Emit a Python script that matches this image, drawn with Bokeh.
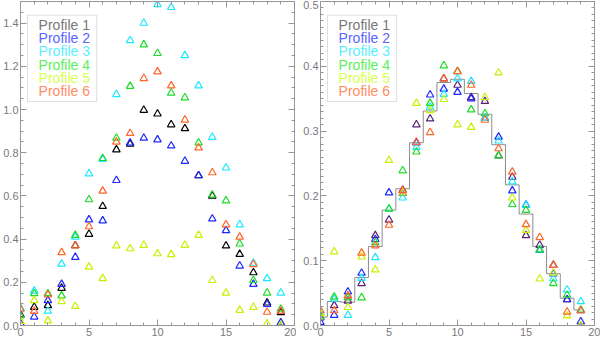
from bokeh.plotting import figure
from bokeh.layouts import row
from bokeh.models import Range1d, FixedTicker, LinearAxis, Label, BoxAnnotation
from bokeh.embed import file_html
from bokeh.resources import INLINE

# ---------------- data ----------------
X = list(range(20))
NAMES = ["Profile 1", "Profile 2", "Profile 3", "Profile 4", "Profile 5", "Profile 6"]

LEFT_P1 = [0.05, 0.085, 0.093, 0.173, 0.37, 0.423, 0.552, 0.814, 0.84, 0.997, 0.98, 0.93, 0.912, 0.694, 0.60, 0.369, 0.33, 0.245, 0.105, 0.06]
LEFT_P2 = [0.01, 0.04, 0.116, 0.191, 0.316, 0.49, 0.485, 0.672, 0.845, 0.868, 0.86, 0.832, 0.761, 0.694, 0.494, 0.44, 0.276, 0.191, 0.098, 0.013]
LEFT_P3 = [0.08, 0.16, 0.067, 0.285, 0.41, 0.703, 0.77, 1.07, 1.32, 1.40, 1.486, 1.473, 1.25, 1.11, 0.872, 0.73, 0.467, 0.289, 0.218, 0.151]
LEFT_P4 = [0.045, 0.148, 0.148, 0.138, 0.418, 0.583, 0.774, 0.868, 1.108, 1.30, 1.26, 1.077, 1.055, 0.846, 0.605, 0.578, 0.378, 0.209, 0.151, 0.076]
LEFT_P5 = [0.02, 0.116, 0.022, 0.111, 0.089, 0.271, 0.218, 0.369, 0.356, 0.372, 0.333, 0.329, 0.372, 0.418, 0.209, 0.151, 0.071, 0.085, 0.009, 0.0]
LEFT_P6 = [0.076, 0.066, 0.142, 0.338, 0.369, 0.458, 0.623, 0.85, 0.89, 1.144, 1.175, 1.11, 0.952, 0.823, 0.708, 0.467, 0.41, 0.283, 0.062, 0.066]

RIGHT_P1 = [0.012, 0.031, 0.038, 0.065, 0.139, 0.163, 0.209, 0.310, 0.319, 0.381, 0.371, 0.352, 0.346, 0.262, 0.229, 0.139, 0.124, 0.093, 0.040, 0.023]
RIGHT_P2 = [0.005, 0.016, 0.052, 0.081, 0.133, 0.205, 0.204, 0.282, 0.356, 0.365, 0.360, 0.350, 0.320, 0.291, 0.208, 0.186, 0.116, 0.080, 0.040, 0.006]
RIGHT_P3 = [0.020, 0.041, 0.016, 0.073, 0.105, 0.180, 0.197, 0.275, 0.337, 0.357, 0.381, 0.377, 0.320, 0.285, 0.222, 0.186, 0.117, 0.072, 0.055, 0.037]
RIGHT_P4 = [0.013, 0.044, 0.043, 0.043, 0.128, 0.180, 0.239, 0.268, 0.343, 0.401, 0.392, 0.333, 0.327, 0.262, 0.187, 0.178, 0.117, 0.065, 0.047, 0.024]
RIGHT_P5 = [0.019, 0.114, 0.028, 0.106, 0.086, 0.255, 0.205, 0.343, 0.332, 0.349, 0.310, 0.306, 0.352, 0.390, 0.197, 0.147, 0.072, 0.081, 0.015, 0.000]
RIGHT_P6 = [0.023, 0.023, 0.046, 0.112, 0.123, 0.155, 0.208, 0.283, 0.298, 0.381, 0.392, 0.371, 0.317, 0.273, 0.237, 0.156, 0.136, 0.093, 0.021, 0.023]

MODEL = [0.013, 0.037, 0.036, 0.074, 0.122, 0.178, 0.211, 0.282, 0.331, 0.375, 0.380, 0.358, 0.326, 0.279, 0.217, 0.172, 0.122, 0.080, 0.042, 0.024]

X_TICKS = [0, 5, 10, 15, 20]
LEFT_Y_TICKS = [0.0, 0.2, 0.4, 0.6, 0.8, 1.0, 1.2, 1.4]
RIGHT_Y_TICKS = [0.0, 0.1, 0.2, 0.3, 0.4, 0.5]

LEFT_SERIES = [LEFT_P1, LEFT_P2, LEFT_P3, LEFT_P4, LEFT_P5, LEFT_P6]
RIGHT_SERIES = [RIGHT_P1, RIGHT_P2, RIGHT_P3, RIGHT_P4, RIGHT_P5, RIGHT_P6]

# ---------------- style ----------------
LEFT_COLORS = ["#000000", "#1e28ff", "#1ee6ff", "#1edc28", "#c8f000", "#ff6428"]
RIGHT_COLORS = ["#5a1e78", "#1e28ff", "#1ee6ff", "#1edc28", "#c8f000", "#ff6428"]
TEXT_COLORS = ["#787878", "#5a64ff", "#5af0ff", "#5af05a", "#d7ff50", "#ff8c64"]
AXC = "#969696"
TXC = "#7a7a7a"
FONT = "Liberation Sans"


def style_axis(ax, labels=True):
    ax.axis_line_color = AXC
    ax.major_tick_line_color = AXC
    ax.minor_tick_line_color = AXC
    ax.major_tick_in = 6
    ax.major_tick_out = 0
    ax.minor_tick_in = 3
    ax.minor_tick_out = 0
    ax.major_label_text_color = TXC
    ax.major_label_text_font = FONT
    ax.major_label_text_font_size = "11px"
    ax.major_label_standoff = 2
    if not labels:
        # tick marks only: labels are not painted
        ax.major_label_text_color = None
        ax.major_label_text_font_size = "1px"
        ax.major_label_standoff = 0


def make_panel(width, y_end, y_ticks, y_minor, min_border_left, min_border_right):
    p = figure(width=width, height=338, x_range=Range1d(0, 20), y_range=Range1d(0, y_end),
               output_backend="svg", toolbar_location=None,
               min_border_left=min_border_left, min_border_right=min_border_right,
               min_border_top=1, min_border_bottom=13)
    p.grid.visible = False
    p.outline_line_color = None
    p.background_fill_color = "white"
    p.border_fill_color = "white"
    p.xaxis[0].ticker = FixedTicker(ticks=X_TICKS, minor_ticks=list(range(0, 21)))
    p.yaxis[0].ticker = FixedTicker(ticks=y_ticks, minor_ticks=y_minor)
    p.xaxis[0].major_label_overrides = {t: str(t) for t in X_TICKS}
    p.yaxis[0].major_label_overrides = {t: "%.1f" % t for t in y_ticks}
    style_axis(p.xaxis[0])
    style_axis(p.yaxis[0])
    top = LinearAxis(ticker=FixedTicker(ticks=X_TICKS, minor_ticks=list(range(0, 21))))
    right = LinearAxis(ticker=FixedTicker(ticks=y_ticks, minor_ticks=y_minor))
    style_axis(top, labels=False)
    style_axis(right, labels=False)
    p.add_layout(top, "above")
    p.add_layout(right, "right")
    return p


def add_legend(p, y_end):
    # layout positions (data units) of the legend box and its rows
    box_l, box_r = 0.51, 5.56
    box_t, box_b = y_end * (1 - 14.3 / 337), y_end * (1 - 104 / 337)
    p.add_layout(BoxAnnotation(left=box_l, right=box_r, top=box_t, bottom=box_b,
                               fill_alpha=0, line_color=AXC, line_width=1))
    for i, (name, c) in enumerate(zip(NAMES, TEXT_COLORS)):
        ypx = 24 + i * 13.9
        p.add_layout(Label(x=5.07, y=y_end * (1 - ypx / 337), text=name,
                           text_align="right", text_baseline="middle",
                           text_color=c, text_font=FONT, text_font_size="14px"))


# ---------------- left panel ----------------
left_minor = [round(0.05 * i, 2) for i in range(0, 31)]
p1 = make_panel(296, 1.5, LEFT_Y_TICKS, left_minor, 18, 2)
for ys, c in zip(LEFT_SERIES, LEFT_COLORS):
    p1.scatter(X, ys, marker="triangle", size=7.5, fill_color=None, line_color=c, line_width=1.2)
add_legend(p1, 1.5)

# ---------------- right panel ----------------
right_minor = [round(0.01 * i, 2) for i in range(0, 51)]
p2 = make_panel(304, 0.5, RIGHT_Y_TICKS, right_minor, 24, 6)
p2.step(X, MODEL, mode="center", line_color="#8c8c8c", line_width=1)
for ys, c in zip(RIGHT_SERIES, RIGHT_COLORS):
    p2.scatter(X, ys, marker="triangle", size=7.5, fill_color=None, line_color=c, line_width=1.2)
add_legend(p2, 0.5)

layout = row(p1, p2)
open("out.html", "w").write(file_html(layout, INLINE))
